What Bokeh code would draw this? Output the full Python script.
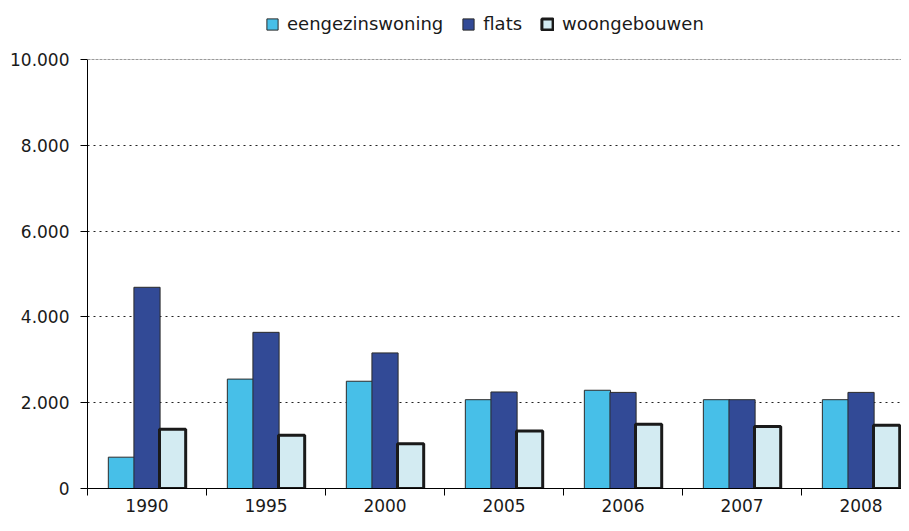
from bokeh.plotting import figure
from bokeh.models import (ColumnDataSource, Range1d, FixedTicker, Legend, LegendItem, Span)
from bokeh.transform import dodge
from bokeh.embed import file_html
from bokeh.resources import INLINE

years = ["1990", "1995", "2000", "2005", "2006", "2007", "2008"]
eengezinswoning = [730, 2550, 2500, 2070, 2290, 2070, 2070]
flats = [4690, 3640, 3160, 2250, 2240, 2070, 2240]
woongebouwen = [1380, 1240, 1045, 1340, 1500, 1445, 1475]

y_ticks = [0, 2000, 4000, 6000, 8000, 10000]
y_tick_labels = ["0", "2.000", "4.000", "6.000", "8.000", "10.000"]

idx = list(range(len(years)))
source = ColumnDataSource(dict(x=idx, e=eengezinswoning, f=flats, w=woongebouwen))

FONT = "DejaVu Sans"

# frame spans full height above the axis; the top 59px hold the legend
p = figure(width=901, height=523, output_backend="svg", toolbar_location=None,
           x_range=Range1d(-0.5, 6.34), y_range=Range1d(0, 11375),
           min_border_left=87, min_border_right=0, min_border_top=0, min_border_bottom=35)
p.outline_line_color = None
p.background_fill_color = "white"
p.border_fill_color = "white"

r1 = p.vbar(x=dodge("x", -0.215, range=p.x_range), top="e", width=0.22, source=source,
            fill_color="#47BFE8", line_color="#2b2b2b", line_width=1)
r2 = p.vbar(x=dodge("x", 0.0, range=p.x_range), top="f", width=0.22, source=source,
            fill_color="#324A96", line_color="#2b2b2b", line_width=1)
r3 = p.vbar(x=dodge("x", 0.215, range=p.x_range), top="w", width=0.22, source=source,
            fill_color="#D3EBF2", line_color="#1a1a1a", line_width=3)

# x axis
p.xaxis.ticker = FixedTicker(ticks=idx, minor_ticks=[i - 0.5 for i in range(len(years) + 1)])
p.xaxis.major_label_overrides = {i: y for i, y in enumerate(years)}
p.xaxis.major_tick_out = 0
p.xaxis.major_tick_in = 0
p.xaxis.minor_tick_out = 7
p.xaxis.minor_tick_in = 0
p.xaxis.minor_tick_line_color = "black"
p.xaxis.axis_line_color = "black"
p.xaxis.major_label_standoff = 3
p.xaxis.major_label_text_font = FONT
p.xaxis.major_label_text_font_size = "17px"
p.xaxis.major_label_text_color = "#1a1a1a"

# y axis
p.yaxis.ticker = FixedTicker(ticks=y_ticks)
p.yaxis.bounds = (0, 10000)
p.yaxis.major_label_overrides = {t: l for t, l in zip(y_ticks, y_tick_labels)}
p.yaxis.major_tick_out = 7
p.yaxis.major_tick_in = 0
p.yaxis.minor_tick_line_color = None
p.yaxis.axis_line_color = "black"
p.yaxis.major_tick_line_color = "black"
p.yaxis.major_label_standoff = 11
p.yaxis.major_label_text_font = FONT
p.yaxis.major_label_text_font_size = "17px"
p.yaxis.major_label_text_color = "#1a1a1a"

# grid
p.xgrid.grid_line_color = None
p.ygrid.ticker = FixedTicker(ticks=[2000, 4000, 6000, 8000])
p.ygrid.grid_line_color = "#222222"
p.ygrid.grid_line_dash = "2 4"
p.ygrid.grid_line_width = 1
p.ygrid.level = "underlay"
top_line = Span(location=10000, dimension="width", line_color="#999999",
                line_dash="3 1", line_width=1)
p.add_layout(top_line)

legend = Legend(items=[LegendItem(label="eengezinswoning", renderers=[r1]),
                       LegendItem(label="flats", renderers=[r2]),
                       LegendItem(label="woongebouwen", renderers=[r3])],
                orientation="horizontal", location=(178, 454),
                label_text_font=FONT, label_text_font_size="18px", label_text_color="#1a1a1a",
                glyph_width=14, glyph_height=14, label_standoff=8, spacing=18,
                border_line_color=None, background_fill_alpha=0, padding=4, margin=0)
p.add_layout(legend)

open("out.html", "w").write(file_html(p, INLINE))
